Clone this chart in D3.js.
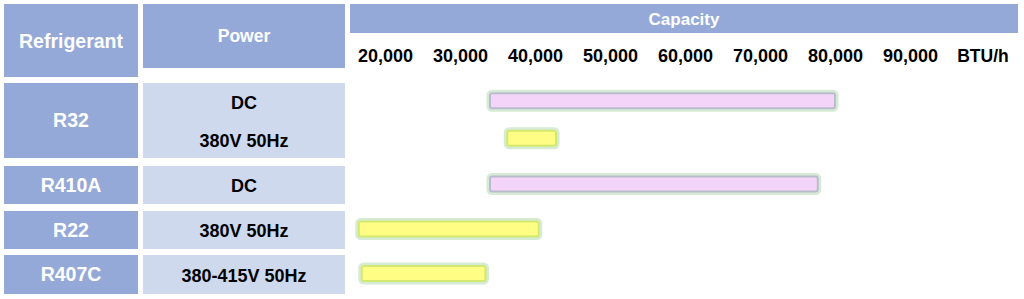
<!DOCTYPE html>
<html>
<head>
<meta charset="utf-8">
<script src="https://cdn.jsdelivr.net/npm/d3@7"></script>
<style>
  html, body { margin: 0; padding: 0; background: #ffffff; }
  svg { display: block; font-family: "Liberation Sans", Arial, sans-serif; font-weight: bold; }
</style>
</head>
<body>
<svg id="chart" width="1024" height="299"></svg>
<script>
// Refrigerants and the power supplies offered for each
const refrigerants = ["R32", "R410A", "R22", "R407C"];
const powerSupplies = [["DC", "380V 50Hz"], ["DC"], ["380V 50Hz"], ["380-415V 50Hz"]];

// Capacity range bars (BTU/h), one per refrigerant / power supply pair
const barRefrigerant = ["R32", "R32", "R410A", "R22", "R407C"];
const barPower = ["DC", "380V 50Hz", "DC", "380V 50Hz", "380-415V 50Hz"];
const capacityLow = [34000, 36300, 34000, 16500, 16900];
const capacityHigh = [80000, 42800, 77700, 40500, 33400];

// Capacity axis ticks
const tickValues = [20000, 30000, 40000, 50000, 60000, 70000, 80000, 90000];
const unitLabel = "BTU/h";

// Headers
const headers = ["Refrigerant", "Power", "Capacity"];

// ---- layout ----
const dark = "#95a9d8", light = "#cfd9ee";
const refCol = { x: 4, w: 134 };
const powCol = { x: 143, w: 202 };
const rowTop = [83, 166, 211, 255];
const rowHeight = [75, 38, 38, 39];

const svg = d3.select("#chart");

// header cells
svg.append("rect").attr("x", refCol.x).attr("y", 4).attr("width", refCol.w).attr("height", 73).attr("fill", dark);
svg.append("rect").attr("x", powCol.x).attr("y", 4).attr("width", powCol.w).attr("height", 64).attr("fill", dark);
svg.append("rect").attr("x", 350).attr("y", 4).attr("width", 668).attr("height", 29).attr("fill", dark);

svg.append("text").attr("x", refCol.x + refCol.w / 2).attr("y", 41).attr("dy", "0.35em")
  .attr("text-anchor", "middle").attr("fill", "#fff").attr("font-size", 19.5).text(headers[0]);
svg.append("text").attr("x", powCol.x + powCol.w / 2).attr("y", 36).attr("dy", "0.35em")
  .attr("text-anchor", "middle").attr("fill", "#fff").attr("font-size", 17.5).text(headers[1]);
svg.append("text").attr("x", 684).attr("y", 19).attr("dy", "0.35em")
  .attr("text-anchor", "middle").attr("fill", "#fff").attr("font-size", 17).text(headers[2]);

// capacity scale and axis
const x = d3.scaleLinear().domain([20000, 90000]).range([385, 910]);
const axis = d3.axisBottom(x).tickValues(tickValues).tickSize(0).tickPadding(0)
  .tickFormat(d3.format(","));
const axisG = svg.append("g").attr("transform", "translate(0,49)").call(axis);
axisG.select(".domain").remove();
axisG.selectAll("text").attr("font-size", 18).attr("font-weight", "bold")
  .attr("font-family", "Liberation Sans, Arial, sans-serif").attr("fill", "#000");
svg.append("text").attr("x", x(100000) - 2).attr("y", 55.5).attr("dy", "0.35em")
  .attr("text-anchor", "middle").attr("font-size", 17.5).attr("fill", "#000").text(unitLabel);

// table rows and line centres for each power supply
const lineY = {};
refrigerants.forEach((r, i) => {
  const top = rowTop[i], h = rowHeight[i];
  svg.append("rect").attr("x", refCol.x).attr("y", top).attr("width", refCol.w).attr("height", h).attr("fill", dark);
  svg.append("rect").attr("x", powCol.x).attr("y", top).attr("width", powCol.w).attr("height", h).attr("fill", light);
  svg.append("text").attr("x", refCol.x + refCol.w / 2).attr("y", top + h / 2).attr("dy", "0.35em")
    .attr("text-anchor", "middle").attr("fill", "#fff").attr("font-size", 19.5).text(r);
  const n = powerSupplies[i].length;
  powerSupplies[i].forEach((p, j) => {
    const cy = top + h * (2 * j + 1) / (2 * n) + 1;
    lineY[r + "|" + p] = cy;
    svg.append("text").attr("x", powCol.x + powCol.w / 2).attr("y", cy).attr("dy", "0.35em")
      .attr("text-anchor", "middle").attr("fill", "#000").attr("font-size", 18).text(p);
  });
});

// capacity bars: pink for DC inverter, yellow for fixed-speed AC supplies
const bars = barRefrigerant.map((r, i) => ({
  r, p: barPower[i], lo: capacityLow[i], hi: capacityHigh[i], dc: barPower[i] === "DC"
}));
const barH = 15;
const g = svg.append("g");
bars.forEach(b => {
  const cy = lineY[b.r + "|" + b.p] - 2;
  const x0 = x(b.lo), x1 = x(b.hi);
  // soft halo
  g.append("rect").attr("x", x0 - 2).attr("y", cy - barH / 2 - 2)
    .attr("width", x1 - x0 + 4).attr("height", barH + 4).attr("rx", 4)
    .attr("fill", "none").attr("stroke", "#d6ebd6").attr("stroke-width", 3);
  g.append("rect").attr("x", x0).attr("y", cy - barH / 2)
    .attr("width", x1 - x0).attr("height", barH).attr("rx", 2)
    .attr("fill", b.dc ? "#f4d4f8" : "#fffd84")
    .attr("stroke", b.dc ? "#b9bccc" : "#d2e86e").attr("stroke-width", 2);
});
</script>
</body>
</html>
